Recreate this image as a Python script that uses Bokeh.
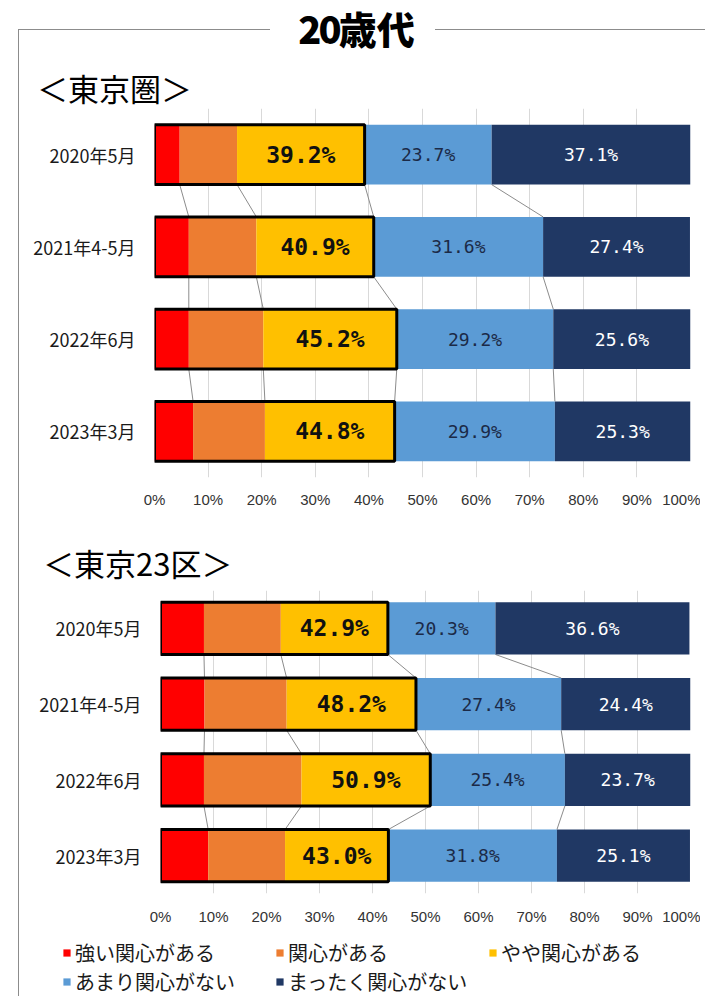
from bokeh.plotting import figure
from bokeh.models import (ColumnDataSource, Range1d, FixedTicker, PrintfTickFormatter,
                          Div, Legend, LegendItem)
from bokeh.layouts import column
from bokeh.core.properties import value
from bokeh.embed import file_html
from bokeh.resources import INLINE

# ---------------- data ----------------
periods = ["2020年5月", "2021年4-5月", "2022年6月", "2023年3月"]
series_names = ["強い関心がある", "関心がある", "やや関心がある", "あまり関心がない", "まったく関心がない"]
colors = ["#FF0000", "#ED7D31", "#FFC000", "#5B9BD5", "#203864"]
x_ticks = [0, 10, 20, 30, 40, 50, 60, 70, 80, 90, 100]

# 東京圏
metro_strong = [4.7, 6.4, 6.4, 7.2]
metro_interest = [10.7, 12.6, 13.9, 13.4]
metro_somewhat = [23.8, 21.9, 24.9, 24.2]
metro_notmuch = [23.7, 31.6, 29.2, 29.9]
metro_none = [37.1, 27.4, 25.6, 25.3]

# 東京23区
ward_strong = [8.2, 8.3, 8.2, 9.0]
ward_interest = [14.5, 15.5, 18.4, 14.5]
ward_somewhat = [20.2, 24.4, 24.3, 19.5]
ward_notmuch = [20.3, 27.4, 25.4, 31.8]
ward_none = [36.6, 24.4, 23.7, 25.1]

JP = "Noto Sans CJK JP"
MONO = "DejaVu Sans Mono"
FIG_W = 681
KEYS = ["s0", "s1", "s2", "s3", "s4"]


def make_source(series):
    data = {"y": list(range(len(periods)))}
    for k, s in zip(KEYS, series):
        data[k] = s
    return ColumnDataSource(data)


def make_chart(series, border_l, frame_h, height, bar_h, ylab_standoff, xlab_standoff):
    n = len(periods)
    ys = list(range(n))
    src = make_source(series)

    cums = []
    run = [0.0] * n
    for s in series:
        run = [a + b for a, b in zip(run, s)]
        cums.append(run)

    p = figure(width=FIG_W, height=height, x_range=Range1d(0, 100),
               y_range=Range1d(n - 0.5, -0.5), output_backend="svg",
               toolbar_location=None, min_border_left=border_l, min_border_right=10,
               min_border_top=0, min_border_bottom=height - frame_h)
    p.frame_align = False
    p.outline_line_color = None

    p.xgrid.ticker = FixedTicker(ticks=x_ticks)
    p.xgrid.grid_line_color = "#d9d9d9"
    p.ygrid.grid_line_color = None
    xa = p.xaxis[0]
    xa.ticker = FixedTicker(ticks=x_ticks)
    xa.formatter = PrintfTickFormatter(format="%d%%")
    xa.axis_line_color = None
    xa.major_tick_line_color = None
    xa.minor_tick_line_color = None
    xa.major_tick_out = 0
    xa.major_tick_in = 0
    xa.major_label_standoff = xlab_standoff
    xa.major_label_text_font = "Liberation Sans"
    xa.major_label_text_font_size = "15px"
    xa.major_label_text_color = "#333333"

    ya = p.yaxis[0]
    ya.ticker = FixedTicker(ticks=ys)
    ya.major_label_overrides = {i: lab for i, lab in enumerate(periods)}
    ya.axis_line_color = None
    ya.major_tick_line_color = None
    ya.minor_tick_line_color = None
    ya.major_tick_out = 0
    ya.major_tick_in = 0
    ya.major_label_standoff = ylab_standoff
    ya.major_label_text_font = JP
    ya.major_label_text_font_size = "18px"
    ya.major_label_text_color = "#1a1a1a"

    cx0, cx1, cy0, cy1 = [], [], [], []
    for c in cums[:4]:
        for i in range(n - 1):
            cx0.append(c[i])
            cx1.append(c[i + 1])
            cy0.append(i + bar_h / 2)
            cy1.append(i + 1 - bar_h / 2)
    p.segment(x0=cx0, y0=cy0, x1=cx1, y1=cy1, line_color="#8c8c8c", line_width=1)

    p.hbar_stack(KEYS, y="y", height=bar_h, color=colors, source=src, line_color=None)

    p.hbar(y=ys, left=[0] * n, right=cums[2], height=bar_h, fill_color=None,
           line_color="black", line_width=3)

    ysrc = ColumnDataSource(dict(
        x=[(a + b) / 2 for a, b in zip(cums[1], cums[2])], y=ys,
        t=[f"{v:.1f}%" for v in cums[2]]))
    p.text(x="x", y="y", text="t", source=ysrc, text_align="center",
           text_baseline="middle", text_font=value(MONO), text_font_style="bold",
           text_font_size="23px", text_color="#111111")
    bsrc = ColumnDataSource(dict(
        x=[(a + b) / 2 for a, b in zip(cums[2], cums[3])], y=ys,
        t=[f"{v:.1f}%" for v in series[3]]))
    p.text(x="x", y="y", text="t", source=bsrc, text_align="center",
           text_baseline="middle", text_font=value(MONO), text_font_size="18px",
           text_color="#1b2a47")
    dsrc = ColumnDataSource(dict(
        x=[(a + b) / 2 for a, b in zip(cums[3], cums[4])], y=ys,
        t=[f"{v:.1f}%" for v in series[4]]))
    p.text(x="x", y="y", text="t", source=dsrc, text_align="center",
           text_baseline="middle", text_font=value(MONO), text_font_size="18px",
           text_color="white")
    return p


metro_series = [metro_strong, metro_interest, metro_somewhat, metro_notmuch, metro_none]
ward_series = [ward_strong, ward_interest, ward_somewhat, ward_notmuch, ward_none]

fig1 = make_chart(metro_series, border_l=135, frame_h=369, height=417, bar_h=0.65,
                  ylab_standoff=19, xlab_standoff=13)
fig2 = make_chart(ward_series, border_l=141, frame_h=303, height=342, bar_h=0.69,
                  ylab_standoff=19, xlab_standoff=14)

# legend panel: the stacked bars are drawn again here but lie outside the visible y-range,
# so only their legend entries show
lg = figure(width=FIG_W, height=64, x_range=Range1d(0, 100), y_range=Range1d(10, 11),
            output_backend="svg", toolbar_location=None, min_border_left=37,
            min_border_right=0, min_border_top=0, min_border_bottom=0)
lg.frame_align = False
lg.axis.visible = False
lg.grid.grid_line_color = None
lg.outline_line_color = None
lg_rends = lg.hbar_stack(KEYS, y="y", height=0.69, color=colors,
                         source=make_source(ward_series), line_color=None)
items = [LegendItem(label=name, renderers=[r]) for name, r in zip(series_names, lg_rends)]
legend = Legend(items=items, location="top_left", orientation="horizontal", ncols=3,
                glyph_width=9, glyph_height=9, label_standoff=4, label_width=200,
                label_height=24, spacing=0, padding=0, margin=6,
                label_text_font=JP, label_text_font_size="20px",
                label_text_color="#1a1a1a", border_line_color=None,
                background_fill_alpha=0)
lg.add_layout(legend, "center")

LINE = "1px solid #8c8c8c"
header = Div(width=697, height=42, margin=0, text=(
    '<div style="position:relative;width:697px;height:42px;">'
    f'<div style="position:absolute;left:10px;top:21px;width:252px;height:21px;'
    f'border-top:{LINE};border-left:{LINE};"></div>'
    f'<div style="position:absolute;left:427px;top:21px;width:270px;height:0;'
    f'border-top:{LINE};"></div>'
    '<div style="position:absolute;left:0;top:0;width:697px;text-align:center;'
    f'line-height:40px;font-family:\'{JP}\';font-weight:900;font-size:38px;color:#000;">'
    '<span style="letter-spacing:-3px;">20</span>歳代</div>'
    '</div>'))

sub1 = Div(width=FIG_W, height=58, margin=0, text=(
    f'<div style="padding-left:18px;padding-top:21px;font-family:\'{JP}\';'
    'font-size:31px;line-height:34px;color:#000;">＜東京圏＞</div>'))
sub2 = Div(width=FIG_W, height=65, margin=0, text=(
    f'<div style="padding-left:24px;padding-top:21px;font-family:\'{JP}\';'
    'font-size:31px;line-height:34px;color:#000;">＜東京23区＞</div>'))

body = column(sub1, fig1, sub2, fig2, lg, spacing=0, margin=(0, 0, 0, 10),
              styles={"border-left": LINE})
root = column(header, body, spacing=0, margin=(8, 0, 0, 8))

open("out.html", "w").write(file_html(root, INLINE))
